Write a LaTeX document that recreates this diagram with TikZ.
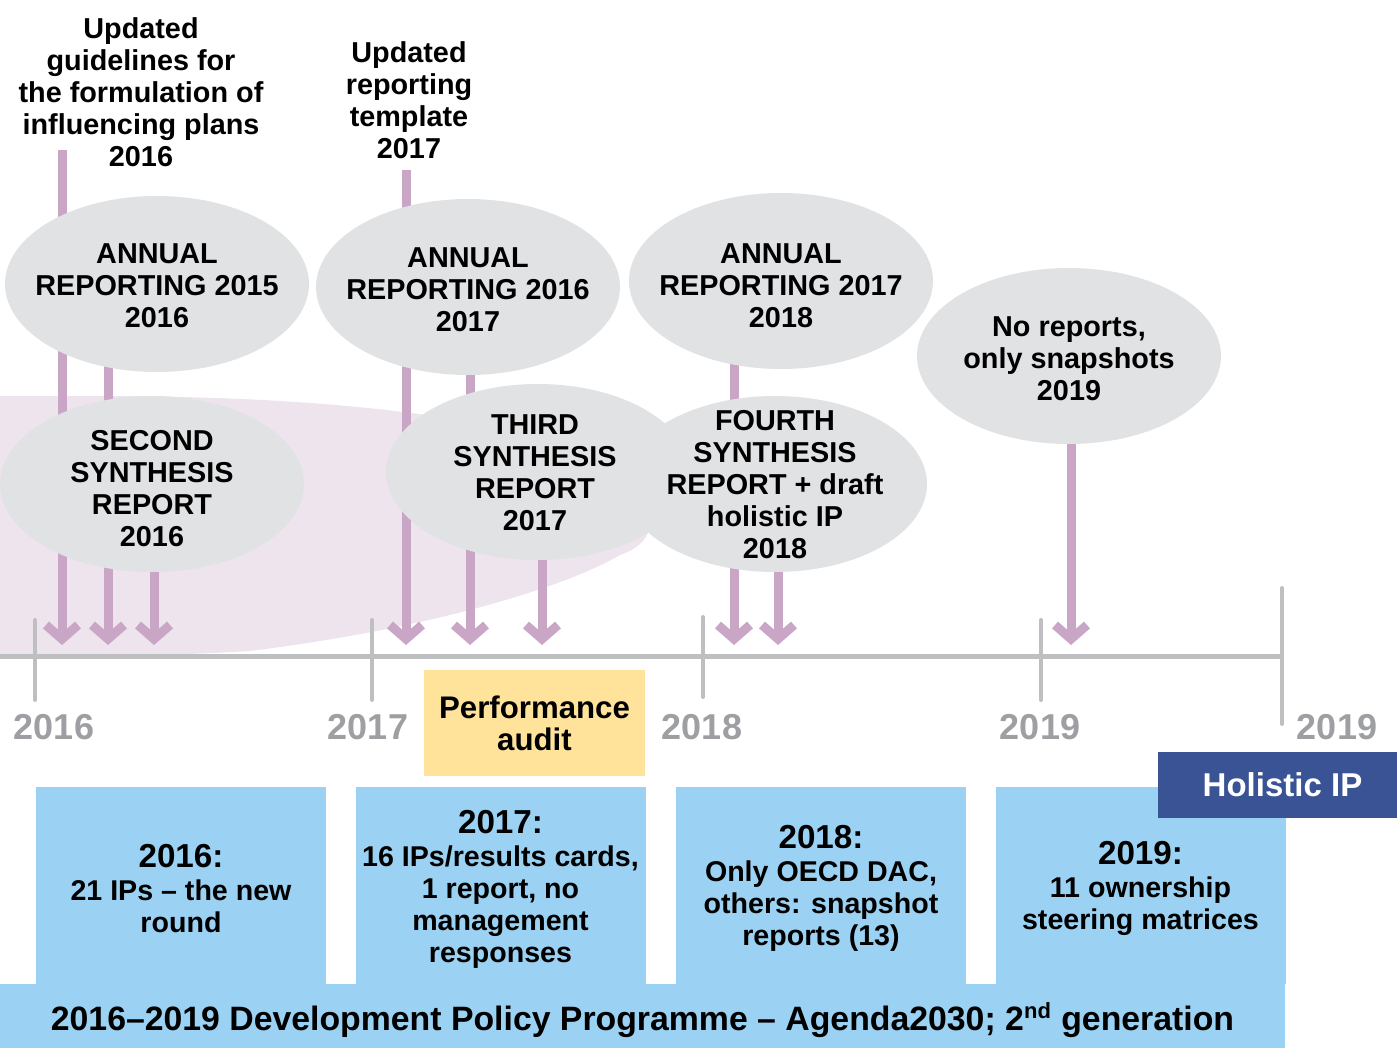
\documentclass[tikz,border=0pt]{standalone}
\usepackage{fontspec}
\setmainfont{Liberation Sans}
\usetikzlibrary{shapes.geometric,arrows.meta}
\pgfdeclarelayer{back}
\pgfdeclarelayer{mid}
\pgfsetlayers{back,mid,main}
\definecolor{pinkbg}{RGB}{237,228,238}
\definecolor{ellgray}{RGB}{225,226,228}
\definecolor{arrpink}{RGB}{201,166,198}
\definecolor{tlgray}{RGB}{190,191,193}
\definecolor{yeargray}{RGB}{158,159,163}
\definecolor{auditc}{RGB}{255,227,155}
\definecolor{boxblue}{RGB}{155,209,242}
\definecolor{navyc}{RGB}{58,83,148}
\tikzset{
  ellshape/.style={ellipse, fill=ellgray, minimum width=152pt, minimum height=88pt, inner sep=0pt},
  etxt/.style={align=center, inner sep=0pt, font=\bfseries\fontsize{14.4}{16}\selectfont},
  arr/.style={draw=arrpink, line width=4.5pt, -{Straight Barb[length=7pt,width=16pt,line cap=butt,line join=miter]}},
  tick/.style={draw=tlgray, line width=2pt, line cap=round},
  year/.style={text=yeargray, inner sep=0pt, font=\bfseries\fontsize{18}{20}\selectfont},
  bluebox/.style={fill=boxblue, minimum width=145pt, minimum height=98.5pt, inner sep=0pt},
  btxt/.style={align=center, inner sep=0pt, font=\bfseries\fontsize{14.3}{16}\selectfont},
}
\newcommand{\hdr}[1]{{\fontsize{16.6}{17}\selectfont #1}\\[0.5pt]}
\begin{document}
\begin{tikzpicture}[x=0.5pt,y=-0.5pt]
\useasboundingbox (0,0) rectangle (1397,1048);

% pink background
\begin{pgfonlayer}{back}
\fill[pinkbg] (0,396) -- (120,396) .. controls (380,398) and (560,425) .. (630,480)
  .. controls (665,520) and (650,545) .. (620,555)
  .. controls (560,590) and (420,630) .. (250,651)
  .. controls (150,657) and (60,657) .. (0,657) -- cycle;
\end{pgfonlayer}

% top labels
\node[etxt] (lab1) at (141,92) {Updated\\guidelines for\\the formulation of\\influencing plans\\2016};
\node[etxt] (lab2) at (409,100) {Updated\\reporting\\template\\2017};

% ellipses
\node[ellshape] (e1) at (157,284) {};
\node[etxt] (t1) at ([yshift=-1pt]e1.center) {ANNUAL\\REPORTING 2015\\2016};
\node[ellshape] (e2) at (468,287) {};
\node[etxt] (t2) at ([yshift=-1.5pt]e2.center) {ANNUAL\\REPORTING 2016\\2017};
\node[ellshape] (e3) at (781,281) {};
\node[etxt] (t3) at ([yshift=-2.5pt]e3.center) {ANNUAL\\REPORTING 2017\\2018};
\node[ellshape] (e4) at (1069,356) {};
\node[etxt] (t4) at ([yshift=-1.5pt]e4.center) {No reports,\\only snapshots\\2019};
\node[ellshape] (e5) at (152,484) {};
\node[etxt] (t5) at ([yshift=-2.5pt]e5.center) {SECOND\\SYNTHESIS\\REPORT\\2016};
\node[ellshape] (e6) at (538,472) {};
\node[etxt] (t6) at ([xshift=-1.5pt,yshift=-0.5pt]e6.center) {THIRD\\SYNTHESIS\\REPORT\\2017};
\node[ellshape] (e7) at (775,484) {};
\node[etxt] (t7) at ([yshift=-0.5pt]e7.center) {FOURTH\\SYNTHESIS\\REPORT + draft\\holistic IP\\2018};

% arrow targets and free starts
\coordinate (tA) at (62,645);
\coordinate (tB) at (108,645);
\coordinate (tC) at (154,645);
\coordinate (tD) at (406,645);
\coordinate (tE) at (470,645);
\coordinate (tF) at (542,645);
\coordinate (tG) at (734,645);
\coordinate (tH) at (778,645);
\coordinate (tI) at (1071,645);
\coordinate (sA) at (62,150);
\coordinate (sD) at (406,170);

\begin{pgfonlayer}{mid}
\draw[arr] (sA) -- (tA);
\draw[arr] (e1.center -| tB) -- (tB);
\draw[arr] (e5.center -| tC) -- (tC);
\draw[arr] (sD) -- (tD);
\draw[arr] (e2.center -| tE) -- (tE);
\draw[arr] (e6.center -| tF) -- (tF);
\draw[arr] (e3.center -| tG) -- (tG);
\draw[arr] (e7.center -| tH) -- (tH);
\draw[arr] (e4.center -| tI) -- (tI);
\end{pgfonlayer}

% timeline
\coordinate (L0) at (0,656);
\coordinate (L1) at (1282,656);
\draw[draw=tlgray, line width=2.5pt] (L0) -- (L1);
\draw[tick] (35,620) -- (35,700);
\draw[tick] (372,620) -- (372,700);
\draw[tick] (703,617) -- (703,697);
\draw[tick] (1041,620) -- (1041,700);
\draw[tick] (1282,588) -- (1282,724);

\node[year] (y1) at (54,727) {2016};
\node[year] (y2) at (368,727) {2017};
\node[year] (y3) at (702,727) {2018};
\node[year] (y4) at (1040,727) {2019};
\node[year] (y5) at (1337,727) {2019};

% performance audit
\node[fill=auditc, minimum width=110.5pt, minimum height=53pt, inner sep=0pt, align=center,
  font=\bfseries\fontsize{15.6}{16}\selectfont] (audit) at (534.5,723) {Performance\\audit};

% blue boxes
\node[bluebox] (b1) at (181,885.5) {};
\node[btxt] (bt1) at ([yshift=-1.5pt]b1.center) {\hdr{2016:}21 IPs -- the new\\round};
\node[bluebox] (b2) at (500.5,885.5) {};
\node[btxt] (bt2) at ([yshift=-2pt]b2.center) {\hdr{2017:}16 IPs/results cards,\\1 report, no\\management\\responses};
\node[bluebox] (b3) at (821,885.5) {};
\node[btxt] (bt3) at ([yshift=-1.5pt]b3.center) {\hdr{2018:}Only OECD DAC,\\others: snapshot\\reports (13)};
\node[bluebox] (b4) at (1140.5,885.5) {};
\node[btxt] (bt4) at ([yshift=-1.5pt]b4.center) {\hdr{2019:}11 ownership\\steering matrices};

\node[fill=boxblue, minimum width=642.5pt, minimum height=32pt, inner sep=0pt] (bar) at (642.5,1016) {};
\node[inner sep=0pt, font=\bfseries\fontsize{16.9}{18}\selectfont] (bartxt) at ([yshift=-2pt]bar.center)
  {2016--2019 Development Policy Programme -- Agenda2030; 2\textsuperscript{\fontsize{11}{12}\selectfont nd} generation};

\node[fill=navyc, minimum width=119.5pt, minimum height=33pt, inner sep=0pt] (hip) at (1277.5,785) {};
\node[text=white, inner sep=0pt, font=\bfseries\fontsize{16.5}{18}\selectfont] (hiptxt) at ([xshift=2.5pt]hip.center) {Holistic IP};
\end{tikzpicture}
\end{document}
